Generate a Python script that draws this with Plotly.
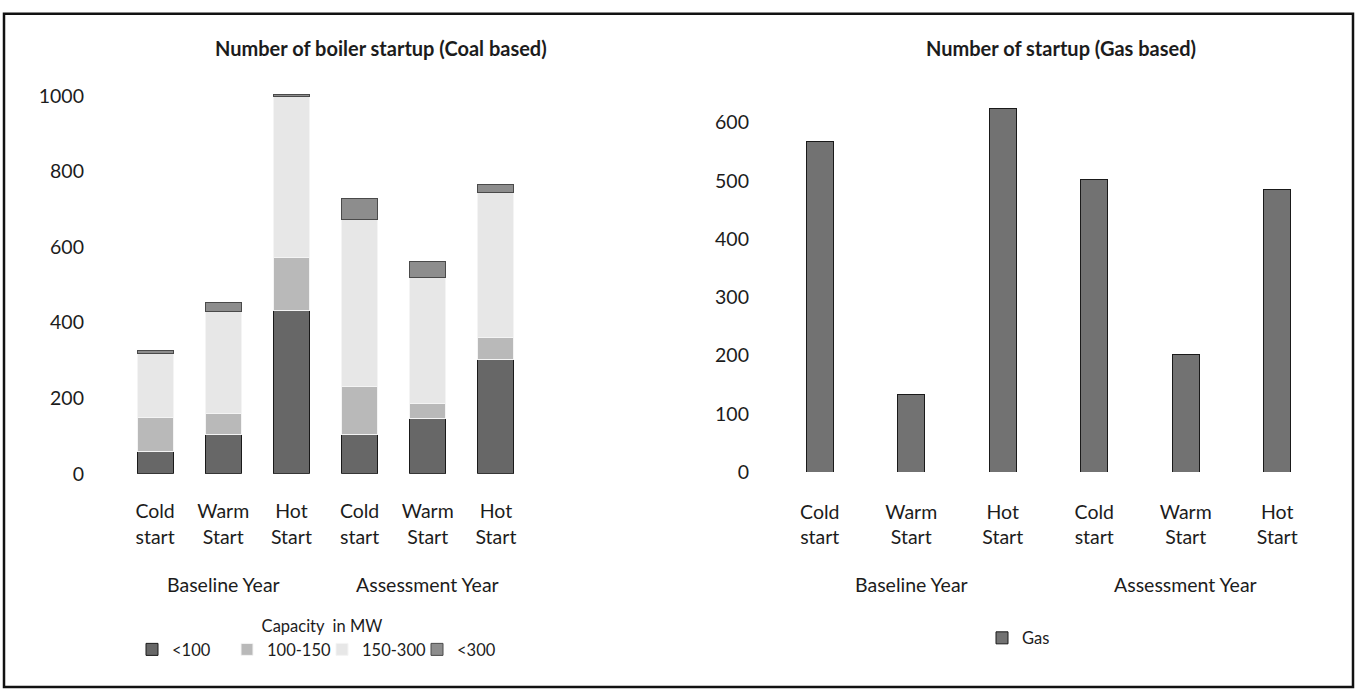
import plotly.graph_objects as go

# Canvas size in pixels
W, H = 1357, 700

# ---- data ----
start_types = ["Cold<br>start", "Warm<br>Start", "Hot<br>Start",
               "Cold<br>start", "Warm<br>Start", "Hot<br>Start"]
periods = ["Baseline Year", "Assessment Year"]
period_centre = [1, 4]          # middle category of each period

cap_lt100 = [60, 104, 433, 103, 145, 302]
cap_100_150 = [88, 55, 138, 127, 41, 59]
cap_150_300 = [170, 270, 426, 442, 334, 383]
cap_300_plus = [8, 24, 5, 56, 41, 22]
capacity_names = ["<100", "100-150", "150-300", "<300"]

gas = [568, 134, 625, 502, 201, 486]

coal_y_ticks = [0, 200, 400, 600, 800, 1000]
gas_y_ticks = [0, 100, 200, 300, 400, 500, 600]

# ---- styling ----
FONT = "Lato"
TXT = "#1c1c1c"
TICK_SIZE = 19.5
LEG_SIZE = 16.5
TITLE_SIZE = 20
fills = ["#676767", "#b9b9b9", "#e7e7e7", "#8d8d8d"]
edges = ["#1a1a1a", "#f4f4f4", "#f4f4f4", "#4a4a4a"]


def fx(px):
    return px / W


def fy(py):
    return 1 - py / H


x_idx = list(range(len(start_types)))

fig = go.Figure()

coal_series = [cap_lt100, cap_100_150, cap_150_300, cap_300_plus]
for name, vals, fc, lc in zip(capacity_names, coal_series, fills, edges):
    fig.add_trace(go.Bar(
        x=x_idx, y=vals, name=name, width=0.53,
        marker=dict(color=fc, line=dict(color=lc, width=1)),
        xaxis="x", yaxis="y", legend="legend",
    ))

fig.add_trace(go.Bar(
    x=x_idx, y=gas, name="Gas", width=0.3,
    marker=dict(color="#727272", line=dict(color="#1a1a1a", width=1)),
    xaxis="x2", yaxis="y2", legend="legend2",
))

axis_common = dict(showgrid=False, zeroline=False, showline=False, ticks="",
                   tickfont=dict(family=FONT, size=TICK_SIZE, color=TXT))

fig.update_layout(
    width=W, height=H,
    margin=dict(l=0, r=0, t=0, b=0),
    paper_bgcolor="white", plot_bgcolor="white",
    barmode="stack",
    font=dict(family=FONT, size=TICK_SIZE, color=TXT),
    xaxis=dict(domain=[fx(121), fx(530)], range=[-0.5, 5.5],
               tickmode="array", tickvals=x_idx, ticktext=start_types,
               ticklabelstandoff=24, anchor="y", **axis_common),
    yaxis=dict(domain=[fy(480), fy(86)], range=[0, 1020],
               tickmode="array", tickvals=coal_y_ticks,
               ticklabelstandoff=36, anchor="x", **axis_common),
    xaxis2=dict(domain=[fx(774), fx(1323)], range=[-0.5, 5.5],
                tickmode="array", tickvals=x_idx, ticktext=start_types,
                ticklabelstandoff=26, anchor="y2", **axis_common),
    yaxis2=dict(domain=[fy(478.3), fy(91.5)], range=[0, 650],
                tickmode="array", tickvals=gas_y_ticks,
                ticklabelstandoff=24, anchor="x2", **axis_common),
    legend=dict(orientation="h", x=fx(132), xanchor="left",
                y=fy(620), yanchor="top",
                title=dict(text="Capacity  in MW", side="top center",
                           font=dict(family=FONT, size=LEG_SIZE, color=TXT)),
                font=dict(family=FONT, size=LEG_SIZE, color=TXT),
                entrywidth=50, entrywidthmode="pixels",
                bgcolor="rgba(0,0,0,0)", traceorder="normal"),
    legend2=dict(orientation="h", x=fx(982), xanchor="left",
                 y=fy(648), yanchor="middle",
                 font=dict(family=FONT, size=LEG_SIZE, color=TXT),
                 bgcolor="rgba(0,0,0,0)"),
    showlegend=True,
)

# Chart titles
fig.add_annotation(text="<b>Number of boiler startup (Coal based)</b>",
                   xref="paper", yref="paper", x=fx(381), y=fy(45),
                   xanchor="center", yanchor="middle", showarrow=False,
                   font=dict(family=FONT, size=TITLE_SIZE, color=TXT))
fig.add_annotation(text="<b>Number of startup (Gas based)</b>",
                   xref="paper", yref="paper", x=fx(1061), y=fy(45),
                   xanchor="center", yanchor="middle", showarrow=False,
                   font=dict(family=FONT, size=TITLE_SIZE, color=TXT))

# Period labels under each group of start types
for xr in ("x", "x2"):
    for label, xc in zip(periods, period_centre):
        fig.add_annotation(text=label, xref=xr, yref="paper", x=xc, y=fy(593),
                           xanchor="center", yanchor="middle", showarrow=False,
                           font=dict(family=FONT, size=TICK_SIZE, color=TXT))

# Outer frame
fig.add_shape(type="rect", xref="paper", yref="paper",
              x0=fx(4), x1=fx(1353), y0=fy(698), y1=fy(10),
              line=dict(color="#111111", width=2.5), fillcolor="rgba(0,0,0,0)",
              layer="below")

fig.write_html("out.html")
